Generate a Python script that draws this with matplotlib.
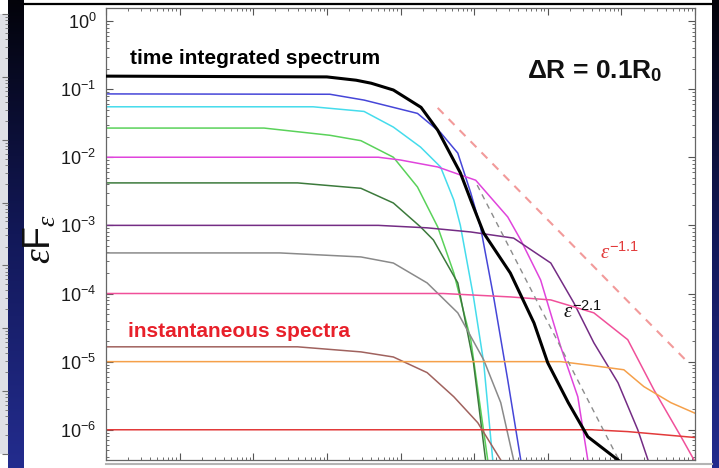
import numpy as np
import matplotlib
matplotlib.use('Agg')
import matplotlib.pyplot as plt
from matplotlib.lines import Line2D
from matplotlib.ticker import LogLocator, NullFormatter

plt.rcParams['font.family'] = ['Liberation Sans', 'DejaVu Sans']
plt.rcParams['mathtext.fontset'] = 'custom'
plt.rcParams['mathtext.rm'] = 'Liberation Sans'
plt.rcParams['mathtext.sf'] = 'Liberation Sans'
plt.rcParams['mathtext.it'] = 'Liberation Serif:italic'
plt.rcParams['mathtext.bf'] = 'Liberation Sans:bold'

# time integrated spectrum (thick black)
energy_total = [1e-1, 1e2, 2.5e2, 4e2, 8e2, 1.9e3, 3.2e3, 6.5e3, 9e3, 1.35e4,
                3.1e4, 6.5e4, 1e5, 1.9e5, 3.5e5, 9e5, 2e6]
flux_total = [1.55e-1, 1.51e-1, 1.35e-1, 1.22e-1, 9.7e-2, 5.4e-2, 2.5e-2, 5.9e-3,
              2.35e-3, 7.7e-4, 2.0e-4, 3.7e-5, 9.6e-6, 2.5e-6, 7.9e-7, 3.6e-7, 1.9e-7]

# instantaneous spectra, brightest first
e_1 = [1e-1, 1.1e2, 3.2e2, 1.7e3, 3.5e3, 6e3, 9e3, 1.22e4, 1.84e4, 2.86e4, 4.3e4, 5e4]
f_1 = [8.5e-2, 8.4e-2, 6.9e-2, 4.4e-2, 2.3e-2, 1.15e-2, 3.0e-3, 9.5e-4, 8.9e-5,
       5.4e-6, 3.6e-7, 1.3e-7]
e_2 = [1e-1, 6.5e1, 3.2e2, 8e2, 1.87e3, 3.5e3, 5.3e3, 6.5e3, 9.8e3, 1.35e4, 1.79e4, 1.9e4]
f_2 = [5.5e-2, 5.5e-2, 4.7e-2, 2.77e-2, 1.41e-2, 7.2e-3, 2.35e-3, 1.0e-3, 8.9e-5,
       9.6e-6, 3.6e-7, 1.7e-7]
e_3 = [1e-1, 1.4e1, 1.1e2, 2.9e2, 8e2, 1.7e3, 3.2e3, 5.3e3, 9e3, 1.53e4, 1.66e4]
f_3 = [2.68e-2, 2.68e-2, 2.1e-2, 1.75e-2, 1.0e-2, 3.66e-3, 9.5e-4, 2.0e-4, 2.1e-5,
       3.6e-7, 1.9e-7]
e_4 = [1e-1, 5e2, 1e3, 3.2e3, 6.5e3, 1.05e4, 2.86e4, 4.3e4, 8e4, 1.5e5, 2.56e5,
       3.5e5, 4e5]
f_4 = [1e-2, 1e-2, 9.1e-3, 7.2e-3, 5.5e-3, 4.6e-3, 1.33e-3, 6.1e-4, 1.58e-4, 1.65e-5,
       3.05e-6, 3.6e-7, 1.5e-7]
e_5 = [1e-1, 4e1, 2.9e2, 8e2, 1.87e3, 2.8e3, 6e3, 9.8e3, 1.43e4, 1.55e4]
f_5 = [4.2e-3, 4.2e-3, 3.5e-3, 2.13e-3, 9.5e-4, 6.1e-4, 1.43e-4, 9.6e-6, 3.6e-7, 1.8e-7]
e_6 = [1e-1, 5e2, 2.3e3, 9e3, 3.44e4, 1.1e5, 2.26e5, 4.23e5, 9e5, 1.67e6, 2.3e6, 2.8e6]
f_6 = [1e-3, 1e-3, 9.2e-4, 8.0e-4, 6.5e-4, 2.8e-4, 7.3e-5, 1.89e-5, 4.9e-6, 1e-6,
       3.6e-7, 1.9e-7]
e_7 = [1e-1, 2.3e1, 2.9e2, 8e2, 2.3e3, 6e3, 1.35e4, 2.3e4, 3.44e4, 4e4]
f_7 = [3.94e-4, 3.94e-4, 3.44e-4, 2.8e-4, 1.43e-4, 5.2e-5, 1.06e-5, 2.5e-6, 3.6e-7, 1.8e-7]
e_8 = [1e-1, 3.8e3, 3.14e4, 1.1e5, 4.23e5, 1.22e6, 2.77e6, 6.46e6, 1e7]
f_8 = [1e-4, 1e-4, 8.9e-5, 8.05e-5, 5.2e-5, 2.1e-5, 3.85e-6, 7.9e-7, 3.4e-7]
e_9 = [1e-1, 4e1, 2.9e2, 8e2, 2.3e3, 5.3e3, 1.12e4, 2.3e4, 3.2e4]
f_9 = [1.65e-5, 1.65e-5, 1.39e-5, 1.17e-5, 6.9e-6, 3.05e-6, 1.27e-6, 3.6e-7, 2.1e-7]
e_10 = [1e-1, 1.5e5, 4.23e5, 1.08e6, 2.02e6, 4.7e6, 1e7]
f_10 = [1e-5, 1e-5, 8.7e-6, 7.6e-6, 4.3e-6, 2.5e-6, 1.75e-6]
e_11 = [1e-1, 4e5, 1.22e6, 1e7]
f_11 = [1e-6, 1e-6, 9.4e-7, 7.7e-7]

spec_colors = ['#4646d8', '#45dcec', '#5ad25a', '#e044dc', '#3c7a3c', '#742c84',
               '#8a8a8a', '#f0509a', '#a0625e', '#f5a04a', '#e23a3a']

# reference power laws
e_soft = [3.2e3, 7.5e6]
f_soft = [5.3e-2, 1.05e-5]   # eps^-1.1
e_hard = [1.1e4, 9e5]
f_hard = [3.9e-3, 3.8e-7]    # eps^-2.1

fig = plt.figure(figsize=(7.19, 4.68), dpi=100)

# slide background: dark side bands, border line, neighbouring axis strip
grad = np.linspace(0, 1, 256).reshape(-1, 1)
slide_cmap = matplotlib.colors.LinearSegmentedColormap.from_list(
    'slide', ['#03030a', '#121858', '#232c8e'])
for x0, w in [(8, 16), (712, 7)]:
    band = fig.add_axes([x0 / 719, 0, w / 719, 1])
    band.imshow(grad, aspect='auto', origin='upper', cmap=slide_cmap)
    band.set_axis_off()

strip = fig.add_axes([0, 0.03, 8 / 719, 0.94])
strip.set_facecolor('#dfe0e6')
strip.set_yscale('log')
strip.set_ylim(1e-7, 1e0)
strip.set_xticks([])
strip.yaxis.tick_right()
strip.tick_params(axis='y', which='both', direction='in', colors='#707070',
                  labelright=False, length=4)
strip.tick_params(axis='y', which='minor', length=2)
for s in strip.spines.values():
    s.set_visible(False)

fig.add_artist(Line2D([24 / 719, 712 / 719], [1 - 4 / 468] * 2, color='black', lw=1.6))
fig.add_artist(Line2D([106 / 719, 712 / 719], [1 - 464 / 468] * 2, color='#b4b4b4', lw=1.5))

ax = fig.add_axes([106 / 719, 8 / 468, 589 / 719, 452 / 468])
ax.set_xscale('log')
ax.set_yscale('log')

spectra = [(e_1, f_1), (e_2, f_2), (e_3, f_3), (e_4, f_4), (e_5, f_5), (e_6, f_6),
           (e_7, f_7), (e_8, f_8), (e_9, f_9), (e_10, f_10), (e_11, f_11)]
for (e, f), c in zip(spectra, spec_colors):
    ax.plot(e, f, color=c, lw=1.1)

ax.plot(e_soft, f_soft, color='#f29a9a', lw=1.5, ls=(0, (4, 3.5)))
ax.plot(e_hard, f_hard, color='#8c8c8c', lw=1.0, ls=(0, (4, 3.5)))
ax.plot(energy_total, flux_total, color='black', lw=2.2, zorder=5)

ax.set_xlim(1e-1, 1e7)
ax.set_ylim(3.6e-7, 1.55)

ax.xaxis.set_major_locator(LogLocator(base=10, numticks=12))
ax.xaxis.set_minor_locator(LogLocator(base=10, subs=np.arange(2, 10), numticks=12))
ax.yaxis.set_major_locator(LogLocator(base=10, numticks=12))
ax.yaxis.set_minor_locator(LogLocator(base=10, subs=np.arange(2, 10), numticks=12))
ax.xaxis.set_minor_formatter(NullFormatter())
ax.yaxis.set_minor_formatter(NullFormatter())
ax.tick_params(which='both', direction='in', top=True, right=True, colors='#555555',
               labelcolor='#1a1a1a', labelsize=13, labelbottom=False, pad=7)
ax.tick_params(which='major', length=5, width=0.8)
ax.tick_params(which='minor', length=2.5, width=0.6)
for s in ax.spines.values():
    s.set_color('#666666')
    s.set_linewidth(0.9)

# y axis title
ax.text(-0.112, 0.49, r'$\varepsilon\mathrm{F}_{\varepsilon}$', transform=ax.transAxes,
        fontsize=27, color='#111111', rotation=90, ha='center', va='center')

ax.text(0.041, 0.876, 'time integrated spectrum', transform=ax.transAxes,
        fontsize=15, fontweight='bold', color='black', va='baseline')
ax.text(0.037, 0.272, 'instantaneous spectra', transform=ax.transAxes,
        fontsize=15, fontweight='bold', color='#e8202a', va='baseline')
ax.text(0.715, 0.845, r'ΔR = 0.1R$_\mathbf{0}$', transform=ax.transAxes,
        fontsize=19, fontweight='bold', color='#111111', va='baseline')
ax.text(0.839, 0.46, r'$\varepsilon^{\mathrm{-1.1}}$', transform=ax.transAxes,
        fontsize=15, color='#e23a3a', va='center')
ax.text(0.776, 0.33, r'$\varepsilon^{\mathrm{-2.1}}$', transform=ax.transAxes,
        fontsize=15, color='#111111', va='center')

fig.savefig('out.png', dpi=100)
